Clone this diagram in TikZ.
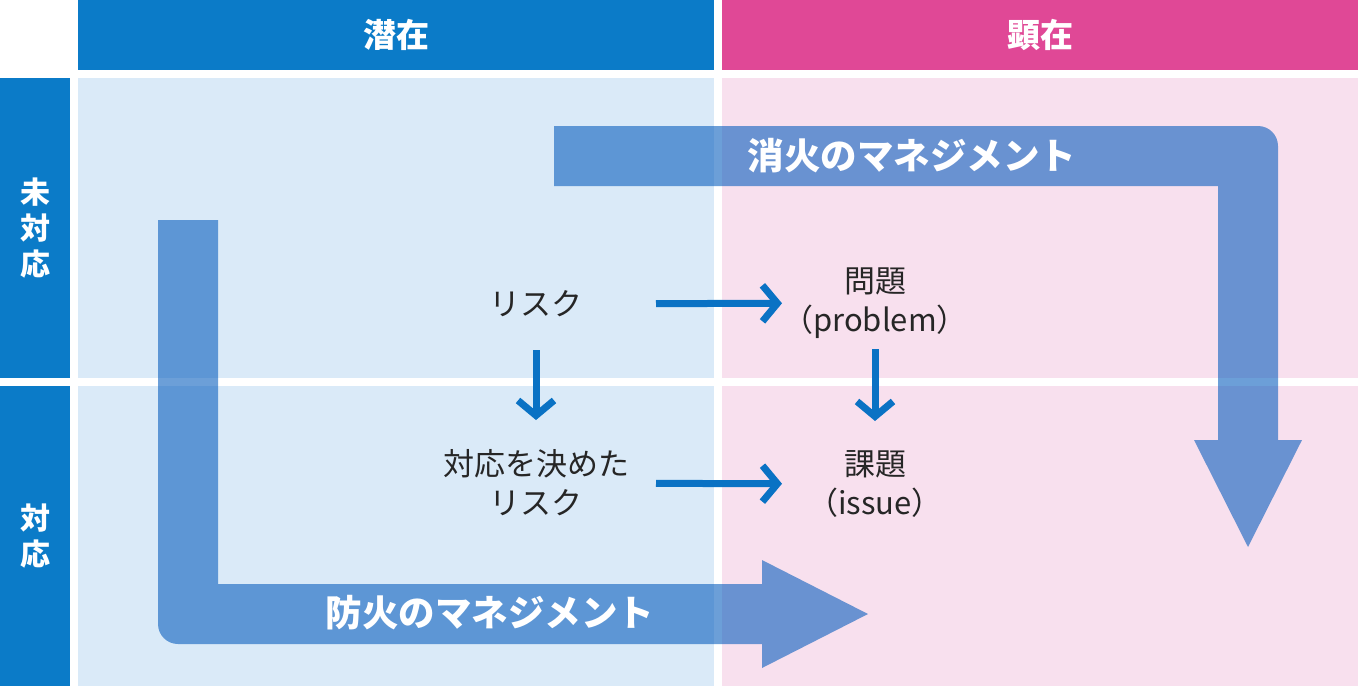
\documentclass[tikz,border=0pt]{standalone}
\usepackage{fontspec}
\usetikzlibrary{arrows.meta}
\newfontfamily\jp{Noto Sans CJK JP}
\definecolor{hdrblue}{RGB}{11,123,200}
\definecolor{hdrpink}{RGB}{224,72,150}
\definecolor{cellblue}{RGB}{218,234,248}
\definecolor{cellpink}{RGB}{248,224,238}
\definecolor{bigarrow}{RGB}{10,95,190}
\definecolor{smallarrow}{RGB}{10,114,196}
\begin{document}
\begin{tikzpicture}[x=1pt,y=-1pt,
  every node/.style={font=\jp},
  hdr/.style={draw=none, inner sep=0pt, minimum width=636pt, minimum height=70pt, text=white, font=\jp\bfseries\fontsize{33}{38}\selectfont},
  side/.style={draw=none, fill=hdrblue, inner sep=0pt, minimum width=70pt, minimum height=300pt, text=white, align=center, font=\jp\bfseries\fontsize{30}{36}\selectfont},
  cell/.style={draw=none, inner sep=0pt, minimum width=636pt, minimum height=300pt},
  label/.style={align=center, text=black!85, font=\jp\fontsize{31}{39}\selectfont},
  band/.style={fill=bigarrow, fill opacity=0.6, draw=none},
  bandtext/.style={text=white, font=\jp\bfseries\fontsize{36.5}{40}\selectfont},
  conn/.style={draw=smallarrow, line width=7pt, -{Straight Barb[length=15pt, width=36pt, line width=7pt]}}
]
\useasboundingbox (0,0) rectangle (1358,686);
\fill[white] (0,0) rectangle (1358,686);
% headers
\node[hdr, fill=hdrblue] (hL) at (396,35) {潜在};
\node[hdr, fill=hdrpink] (hR) at (1040,35) {顕在};
% side labels
\node[side] (s1) at (35,228) {未\\対\\応};
\node[side] (s2) at (35,536) {対\\応};
% cells
\node[cell, fill=cellblue] (c11) at (396,228) {};
\node[cell, fill=cellpink] (c12) at (1040,228) {};
\node[cell, fill=cellblue] (c21) at (396,536) {};
\node[cell, fill=cellpink] (c22) at (1040,536) {};
% big arrows
\fill[band] (554,126) -- (1258,126) arc[start angle=-90, end angle=0, radius=20] -- (1278,440) -- (1302,440) -- (1248,547) -- (1194,440) -- (1218,440) -- (1218,186) -- (554,186) -- cycle;
\fill[band] (158,220) -- (218,220) -- (218,584) -- (762,584) -- (762,560) -- (868,614) -- (762,668) -- (762,644) -- (178,644) arc[start angle=90, end angle=180, radius=20] -- cycle;
\node[bandtext] (t1) at (912,156) {消火のマネジメント};
\node[bandtext] (t2) at (490,613) {防火のマネジメント};
% labels
\node[label] (risk) at (536,304) {リスク};
\node[label] (prob) at (875,303) {問題\\（problem）};
\node[label] (dec) at (536,483) {対応を決めた\\リスク};
\node[label] (iss) at (875,484) {課題\\（issue）};
% small arrows
\draw[conn, shorten <=120pt, shorten >=93pt] (risk.center) -- (prob.center);
\draw[conn, shorten <=120pt, shorten >=93pt] (dec.center) -- (iss.center);
\draw[conn, shorten <=46pt, shorten >=63pt] (risk.center) -- (dec.center);
\draw[conn, shorten <=46pt, shorten >=63pt] (prob.center) -- (iss.center);
\end{tikzpicture}
\end{document}
